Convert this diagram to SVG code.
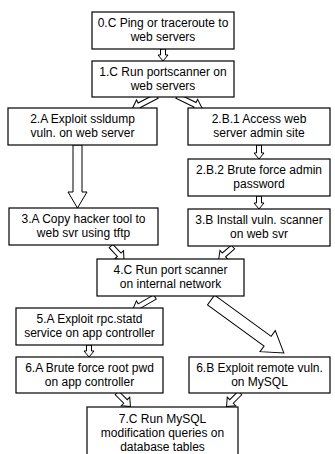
<svg xmlns="http://www.w3.org/2000/svg" width="335" height="454" viewBox="0 0 335 454">
<style>
.box{fill:#fff;stroke:#000;stroke-width:1.2}
.t{font-family:"Liberation Sans",Arial,sans-serif;font-size:12px;fill:#000;text-anchor:middle}
.ar{fill:#fff;stroke:#000;stroke-width:1}
</style>
<rect width="335" height="454" fill="#fff"/>
<g id="connectors">
<path class="ar" transform="translate(163,49) rotate(90)" d="M0,-2.5 L6,-2.5 L6,-5 L12,0 L6,5 L6,2.5 L0,2.5 Z"/>
<path class="ar" transform="translate(259,145) rotate(90)" d="M0,-2.5 L8,-2.5 L8,-5 L14,0 L8,5 L8,2.5 L0,2.5 Z"/>
<path class="ar" transform="translate(259,196) rotate(90)" d="M0,-2.5 L7,-2.5 L7,-5 L13,0 L7,5 L7,2.5 L0,2.5 Z"/>
<path class="ar" transform="translate(89,345) rotate(90)" d="M0,-2.5 L6,-2.5 L6,-5 L12,0 L6,5 L6,2.5 L0,2.5 Z"/>
<path class="ar" transform="translate(77.5,145) rotate(90)" d="M0,-4.5 L47,-4.5 L47,-9.5 L63,0 L47,9.5 L47,4.5 L0,4.5 Z"/>
<path class="ar" transform="translate(157,96) rotate(152.5)" d="M0,-2.5 L20,-2.5 L20,-6 L28,0 L20,6 L20,2.5 L0,2.5 Z"/>
<path class="ar" transform="translate(177,96) rotate(26)" d="M0,-2.5 L20,-2.5 L20,-6 L28,0 L20,6 L20,2.5 L0,2.5 Z"/>
<path class="ar" transform="translate(111,246) rotate(47)" d="M0,-2.5 L12,-2.5 L12,-6 L19,0 L12,6 L12,2.5 L0,2.5 Z"/>
<path class="ar" transform="translate(233,247) rotate(139)" d="M0,-2.5 L12,-2.5 L12,-6 L19,0 L12,6 L12,2.5 L0,2.5 Z"/>
<path class="ar" transform="translate(155,297) rotate(150)" d="M0,-2.5 L18,-2.5 L18,-6 L26,0 L18,6 L18,2.5 L0,2.5 Z"/>
<path class="ar" transform="translate(117,393) rotate(45)" d="M0,-2.5 L12,-2.5 L12,-6 L19,0 L12,6 L12,2.5 L0,2.5 Z"/>
<path class="ar" transform="translate(240,393) rotate(135)" d="M0,-2.5 L12,-2.5 L12,-6 L19,0 L12,6 L12,2.5 L0,2.5 Z"/>
<path class="ar" transform="translate(211,300) rotate(36)" d="M0,-6 L70,-6 L70,-13 L90,0 L70,13 L70,6 L0,6 Z"/>
</g>
<g id="n0C"><rect class="box" x="92" y="12" width="142" height="37"/><text class="t" x="163" y="27">0.C Ping or traceroute to</text><text class="t" x="163" y="41">web servers</text></g>
<g id="n1C"><rect class="box" x="92" y="61" width="142" height="36"/><text class="t" x="163" y="75.5">1.C Run portscanner on</text><text class="t" x="163" y="89.5">web servers</text></g>
<g id="n2A"><rect class="box" x="8" y="108" width="149" height="37"/><text class="t" x="82.5" y="123">2.A Exploit ssldump</text><text class="t" x="82.5" y="137">vuln. on web server</text></g>
<g id="n2B1"><rect class="box" x="188" y="108" width="142" height="37"/><text class="t" x="259" y="123">2.B.1 Access web</text><text class="t" x="259" y="137">server admin site</text></g>
<g id="n2B2"><rect class="box" x="188" y="159" width="142" height="37"/><text class="t" x="259" y="174">2.B.2 Brute force admin</text><text class="t" x="259" y="188">password</text></g>
<g id="n3B"><rect class="box" x="188" y="209" width="142" height="37"/><text class="t" x="259" y="224">3.B Install vuln. scanner</text><text class="t" x="259" y="238">on web svr</text></g>
<g id="n3A"><rect class="box" x="9" y="208" width="149" height="37"/><text class="t" x="83.5" y="223">3.A Copy hacker tool to</text><text class="t" x="83.5" y="237">web svr using tftp</text></g>
<g id="n4C"><rect class="box" x="97" y="259" width="147" height="37"/><text class="t" x="170.5" y="274">4.C Run port scanner</text><text class="t" x="170.5" y="288">on internal network</text></g>
<g id="n5A"><rect class="box" x="16" y="308" width="147" height="37"/><text class="t" x="89.5" y="323">5.A Exploit rpc.statd</text><text class="t" x="89.5" y="337">service on app controller</text></g>
<g id="n6A"><rect class="box" x="16" y="357" width="147" height="36"/><text class="t" x="89.5" y="371.5">6.A Brute force root pwd</text><text class="t" x="89.5" y="385.5">on app controller</text></g>
<g id="n6B"><rect class="box" x="189" y="357" width="141" height="36"/><text class="t" x="259.5" y="371.5">6.B Exploit remote vuln.</text><text class="t" x="259.5" y="385.5">on MySQL</text></g>
<g id="n7C"><rect class="box" x="87" y="407" width="151" height="50"/><text class="t" x="162.5" y="423">7.C Run MySQL</text><text class="t" x="162.5" y="437">modification queries on</text><text class="t" x="162.5" y="451">database tables</text></g>
</svg>
